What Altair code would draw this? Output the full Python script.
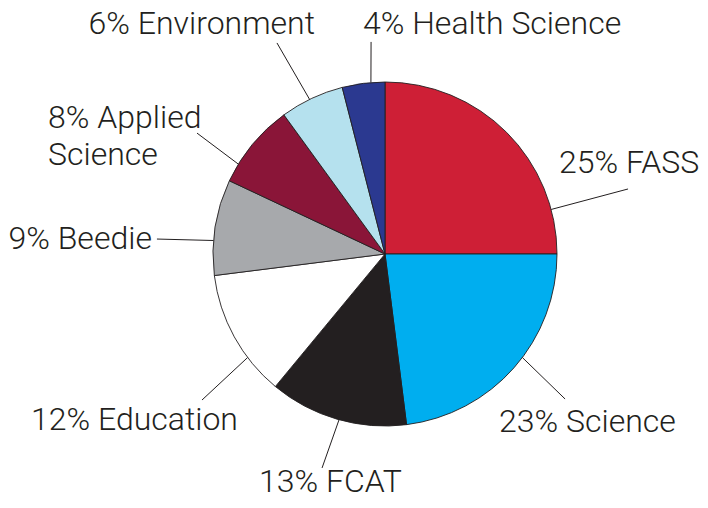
import math
import altair as alt
import pandas as pd

# ---- data ----
faculties = ["FASS", "Science", "FCAT", "Education", "Beedie",
             "Applied Science", "Environment", "Health Science"]
shares = [25, 23, 13, 12, 9, 8, 6, 4]
label_names = ["FASS", "Science", "FCAT", "Education", "Beedie",
               "Applied\nScience", "Environment", "Health Science"]
colors = ["#CE1F36", "#00AEEF", "#231F20", "#FFFFFF", "#A7A9AC",
          "#8A1538", "#B5E1EE", "#2B3990"]

# ---- label layout (pie radius = 1 unit, centre = 0,0) ----
leader_angle = [75.0, 127.0, 195.5, 233.0, 274.5, 301.5, 334.0, 355.3]   # degrees clockwise from top
leader_end_x = [1.413, 1.047, -0.366, -1.064, -1.326, -1.093, -0.628, -0.081]
leader_end_y = [0.378, -0.843, -1.244, -0.849, 0.087, 0.703, 1.227, 1.233]
label_x = [1.012, 0.663, -0.733, -0.855, -1.355, -1.959, -0.407, -0.128]
label_y = [0.529, -0.977, -1.326, -0.965, 0.087, 0.791, 1.337, 1.337]
label_align = ["left", "left", "left", "right", "right", "left", "right", "left"]

R = 172
W, H = 692, 492
x_dom = [-377 / R, (W - 377) / R]
y_dom = [-(H - 246) / R, 246 / R]

df = pd.DataFrame({
    "faculty": faculties,
    "share": shares,
    "order": list(range(len(faculties))),
})

lab = pd.DataFrame({
    "faculty": faculties,
    "label": [f"{s}% {n}" for s, n in zip(shares, label_names)],
    "multi": ["\n" in n for n in label_names],
    "sx": [math.sin(math.radians(a)) for a in leader_angle],
    "sy": [math.cos(math.radians(a)) for a in leader_angle],
    "ex": leader_end_x,
    "ey": leader_end_y,
    "lx": label_x,
    "ly": label_y,
    "align": label_align,
})

xs = alt.Scale(domain=x_dom, nice=False, zero=False)
ys = alt.Scale(domain=y_dom, nice=False, zero=False)
noax = None

pie = alt.Chart(df).mark_arc(outerRadius=R, stroke="#231F20", strokeWidth=0.9).encode(
    theta=alt.Theta("share:Q", stack=True),
    order=alt.Order("order:Q"),
    color=alt.Color("faculty:N", scale=alt.Scale(domain=faculties, range=colors), legend=None),
    x=alt.datum(0, type="quantitative", scale=xs, axis=noax),
    y=alt.datum(0, type="quantitative", scale=ys, axis=noax),
)

leaders = alt.Chart(lab).mark_rule(color="#231F20", strokeWidth=1).encode(
    x=alt.X("sx:Q", scale=xs, axis=noax),
    y=alt.Y("sy:Q", scale=ys, axis=noax),
    x2="ex:Q",
    y2="ey:Q",
)

def text_layer(al, multi):
    kw = dict(align=al, baseline="middle", font="Roboto", fontSize=32, fontWeight=300,
              color="#231F20")
    if multi:
        kw.update(lineBreak="\n", lineHeight=37)
    flt = (alt.datum.align == al) & (alt.datum.multi if multi else ~alt.datum.multi)
    return alt.Chart(lab).transform_filter(flt).mark_text(**kw).encode(
        x=alt.X("lx:Q", scale=xs, axis=noax),
        y=alt.Y("ly:Q", scale=ys, axis=noax),
        text="label:N",
    )

chart = alt.layer(
    pie, leaders,
    text_layer("left", False), text_layer("right", False), text_layer("left", True),
).properties(
    width=W, height=H,
    padding=0,
    autosize=alt.AutoSizeParams(type="none"),
    background="white",
).configure_view(stroke=None)

chart.save("out.html", embed_options={"renderer": "svg", "actions": False})
